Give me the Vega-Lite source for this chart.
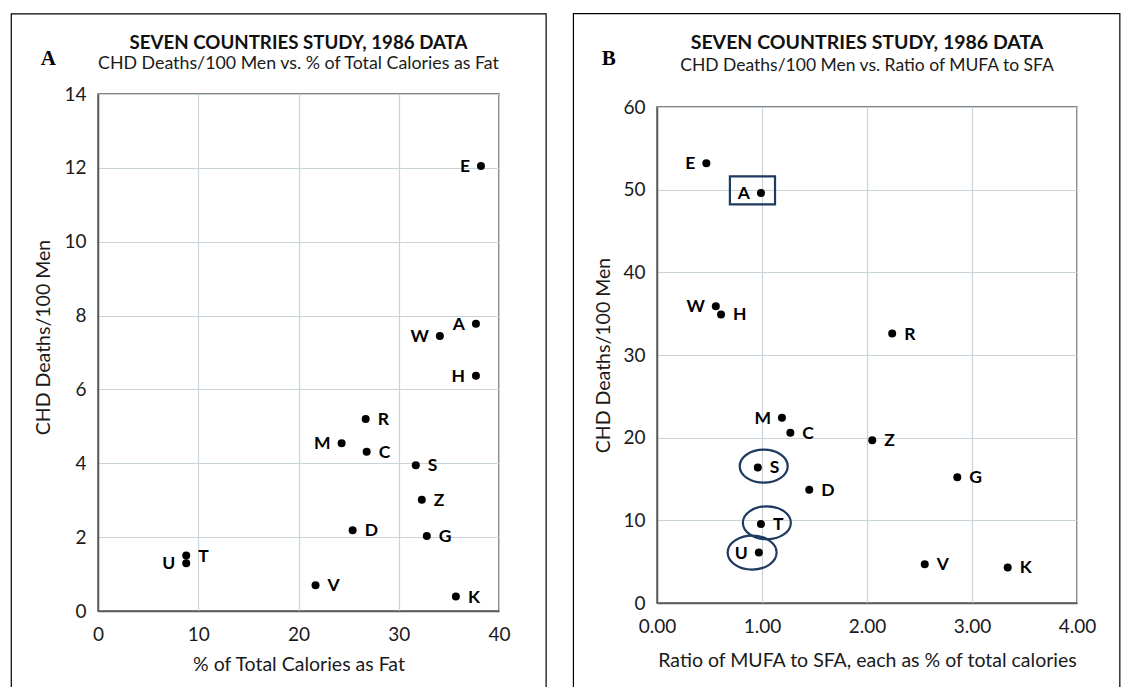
{
  "$schema": "https://vega.github.io/schema/vega-lite/v6.json",
  "padding": {"left": 9, "top": 11, "right": 0, "bottom": 0},
  "background": "white",
  "spacing": 24,
  "datasets": {
    "sc": [
      {"c": "E", "fat": 38.2, "dA": 12.05, "r": 0.47, "dB": 53.2},
      {"c": "A", "fat": 37.7, "dA": 7.78, "r": 0.99, "dB": 49.6},
      {"c": "W", "fat": 34.1, "dA": 7.45, "r": 0.56, "dB": 35.9},
      {"c": "H", "fat": 37.7, "dA": 6.37, "r": 0.61, "dB": 34.9},
      {"c": "R", "fat": 26.7, "dA": 5.2, "r": 2.24, "dB": 32.6},
      {"c": "M", "fat": 24.3, "dA": 4.54, "r": 1.19, "dB": 22.4},
      {"c": "C", "fat": 26.8, "dA": 4.31, "r": 1.27, "dB": 20.6},
      {"c": "S", "fat": 31.7, "dA": 3.95, "r": 0.96, "dB": 16.4},
      {"c": "Z", "fat": 32.3, "dA": 3.01, "r": 2.05, "dB": 19.7},
      {"c": "D", "fat": 25.4, "dA": 2.19, "r": 1.45, "dB": 13.7},
      {"c": "G", "fat": 32.8, "dA": 2.03, "r": 2.86, "dB": 15.2},
      {"c": "T", "fat": 8.8, "dA": 1.5, "r": 0.99, "dB": 9.55},
      {"c": "U", "fat": 8.8, "dA": 1.29, "r": 0.97, "dB": 6.1},
      {"c": "V", "fat": 21.7, "dA": 0.7, "r": 2.55, "dB": 4.7},
      {"c": "K", "fat": 35.7, "dA": 0.39, "r": 3.34, "dB": 4.3}
    ]
  },
  "config": {
    "view": {"stroke": "#5a5a5a", "strokeWidth": 1.5},
    "axis": {
      "domainColor": "#5a5a5a", "domainWidth": 1.5,
      "grid": true, "gridColor": "#c9d3da", "gridWidth": 1.2,
      "ticks": false,
      "labelFont": "Lato", "labelFontSize": 19, "labelColor": "#1a1a1a", "labelPadding": 12,
      "titleFont": "Lato", "titleFontSize": 19.5, "titleFontWeight": "normal", "titleColor": "#1a1a1a"
    },
    "title": {
      "font": "Lato", "fontWeight": "bold", "color": "#111111",
      "subtitleFont": "Lato", "subtitleColor": "#1a1a1a", "subtitlePadding": 3,
      "anchor": "middle", "frame": "group"
    }
  },
  "hconcat": [
    {
      "spacing": 0,
      "vconcat": [
        {"width": 1, "height": 1, "data": {"values": []}, "mark": "point", "view": {"stroke": null}},
        {
          "width": 401,
          "height": 517,
          "data": {"name": "sc"},
          "title": {"text": "SEVEN COUNTRIES STUDY, 1986 DATA", "subtitle": "CHD Deaths/100 Men vs. % of Total Calories as Fat", "offset": -60, "fontSize": 18.7, "subtitleFontSize": 17.8},
          "layer": [
            {
              "data": {"values": [{}]},
              "mark": {"type": "rect", "fill": "transparent", "stroke": "#000000", "strokeWidth": 1.2, "clip": false},
              "encoding": {
                "x": {"datum": -8.65, "type": "quantitative"},
                "x2": {"datum": 44.7},
                "y": {"datum": 16.17, "type": "quantitative"},
                "y2": {"datum": -2.45}
              }
            },
            {
              "data": {"values": [{}]},
              "mark": {"type": "text", "font": "Liberation Serif", "fontSize": 21, "fontWeight": "bold", "align": "left", "baseline": "alphabetic", "color": "black", "clip": false},
              "encoding": {
                "x": {"datum": -5.7, "type": "quantitative"},
                "y": {"datum": 14.78, "type": "quantitative"},
                "text": {"value": "A"}
              }
            },
            {
              "mark": {"type": "point", "filled": true, "color": "black", "size": 64, "opacity": 1},
              "encoding": {
                "x": {"field": "fat", "type": "quantitative", "scale": {"domain": [0, 40], "nice": false, "zero": false},
                      "axis": {"title": "% of Total Calories as Fat", "values": [0, 10, 20, 30, 40], "labelFlush": false, "grid": true, "labelPadding": 14, "titlePadding": 11}},
                "y": {"field": "dA", "type": "quantitative", "scale": {"domain": [0, 14], "nice": false},
                      "axis": {"title": "CHD Deaths/100 Men", "values": [0, 2, 4, 6, 8, 10, 12, 14], "titleY": 243, "titlePadding": 10, "grid": true}}
              }
            },
            {
              "transform": [{"filter": {"field": "c", "oneOf": ["R", "C", "S", "Z", "D", "G", "T", "V", "K"]}}],
              "mark": {"type": "text", "align": "left", "baseline": "middle", "dx": 12, "dy": 1, "font": "Lato", "fontSize": 17.5, "fontWeight": "bold", "color": "black"},
              "encoding": {
                "x": {"field": "fat", "type": "quantitative"},
                "y": {"field": "dA", "type": "quantitative"},
                "text": {"field": "c"}
              }
            },
            {
              "transform": [{"filter": {"field": "c", "oneOf": ["E", "A", "W", "H", "M", "U"]}}],
              "mark": {"type": "text", "align": "right", "baseline": "middle", "dx": -11, "dy": 1, "font": "Lato", "fontSize": 17.5, "fontWeight": "bold", "color": "black"},
              "encoding": {
                "x": {"field": "fat", "type": "quantitative"},
                "y": {"field": "dA", "type": "quantitative"},
                "text": {"field": "c"}
              }
            }
          ]
        }
      ]
    },
    {
      "spacing": 0,
      "vconcat": [
        {"width": 1, "height": 1, "data": {"values": []}, "mark": "point", "view": {"stroke": null}},
        {
          "width": 420,
          "height": 496,
          "data": {"name": "sc"},
          "title": {"text": "SEVEN COUNTRIES STUDY, 1986 DATA", "subtitle": "CHD Deaths/100 Men vs. Ratio of MUFA to SFA", "offset": -62, "fontSize": 19.5, "subtitleFontSize": 17.5},
          "layer": [
            {
              "data": {"values": [{}]},
              "mark": {"type": "rect", "fill": "transparent", "stroke": "#000000", "strokeWidth": 1.2, "clip": false},
              "encoding": {
                "x": {"datum": -0.796, "type": "quantitative"},
                "x2": {"datum": 4.408},
                "y": {"datum": 71.29, "type": "quantitative"},
                "y2": {"datum": -11.8}
              }
            },
            {
              "data": {"values": [{}]},
              "mark": {"type": "text", "font": "Liberation Serif", "fontSize": 21, "fontWeight": "bold", "align": "left", "baseline": "alphabetic", "color": "black", "clip": false},
              "encoding": {
                "x": {"datum": -0.527, "type": "quantitative"},
                "y": {"datum": 65.03, "type": "quantitative"},
                "text": {"value": "B"}
              }
            },
            {
              "mark": {"type": "point", "filled": true, "color": "black", "size": 64, "opacity": 1},
              "encoding": {
                "x": {"field": "r", "type": "quantitative", "scale": {"domain": [0, 4], "nice": false, "zero": false},
                      "axis": {"title": "Ratio of MUFA to SFA, each as % of total calories", "values": [0, 1, 2, 3, 4], "format": ".2f", "labelFlush": false, "grid": true, "labelPadding": 14, "titlePadding": 15}},
                "y": {"field": "dB", "type": "quantitative", "scale": {"domain": [0, 60], "nice": false},
                      "axis": {"title": "CHD Deaths/100 Men", "values": [0, 10, 20, 30, 40, 50, 60], "titlePadding": 9, "grid": true}}
              }
            },
            {
              "transform": [{"filter": {"field": "c", "oneOf": ["H", "R", "C", "Z", "S", "G", "D", "T", "V", "K"]}}],
              "mark": {"type": "text", "align": "left", "baseline": "middle", "dx": 12, "dy": 1, "font": "Lato", "fontSize": 17.5, "fontWeight": "bold", "color": "black"},
              "encoding": {
                "x": {"field": "r", "type": "quantitative"},
                "y": {"field": "dB", "type": "quantitative"},
                "text": {"field": "c"}
              }
            },
            {
              "transform": [{"filter": {"field": "c", "oneOf": ["E", "A", "W", "M", "U"]}}],
              "mark": {"type": "text", "align": "right", "baseline": "middle", "dx": -11, "dy": 1, "font": "Lato", "fontSize": 17.5, "fontWeight": "bold", "color": "black"},
              "encoding": {
                "x": {"field": "r", "type": "quantitative"},
                "y": {"field": "dB", "type": "quantitative"},
                "text": {"field": "c"}
              }
            },
            {
              "transform": [{"filter": {"field": "c", "oneOf": ["S", "T"]}}],
              "mark": {"type": "point", "filled": false, "stroke": "#1f3a5f", "strokeWidth": 2.2, "size": 1024, "opacity": 1,
                       "shape": "M -1.13 -0.08 C -1.13 -0.649 -0.458 -1.11 0.37 -1.11 C 1.198 -1.11 1.87 -0.649 1.87 -0.08 C 1.87 0.489 1.198 0.95 0.37 0.95 C -0.458 0.95 -1.13 0.489 -1.13 -0.08 Z"},
              "encoding": {
                "x": {"field": "r", "type": "quantitative"},
                "y": {"field": "dB", "type": "quantitative"}
              }
            },
            {
              "transform": [{"filter": {"field": "c", "equal": "U"}}],
              "mark": {"type": "point", "filled": false, "stroke": "#1f3a5f", "strokeWidth": 2.2, "size": 1024, "opacity": 1,
                       "shape": "M -1.95 0 C -1.95 -0.585 -1.265 -1.06 -0.42 -1.06 C 0.425 -1.06 1.11 -0.585 1.11 0 C 1.11 0.585 0.425 1.06 -0.42 1.06 C -1.265 1.06 -1.95 0.585 -1.95 0 Z"},
              "encoding": {
                "x": {"field": "r", "type": "quantitative"},
                "y": {"field": "dB", "type": "quantitative"}
              }
            },
            {
              "transform": [{"filter": {"field": "c", "equal": "A"}}],
              "mark": {"type": "point", "filled": false, "stroke": "#1f3a5f", "strokeWidth": 2.2, "size": 1024, "opacity": 1,
                       "shape": "M -1.94 -1.035 L 0.88 -1.035 L 0.88 0.715 L -1.94 0.715 Z"},
              "encoding": {
                "x": {"field": "r", "type": "quantitative"},
                "y": {"field": "dB", "type": "quantitative"}
              }
            }
          ]
        }
      ]
    }
  ]
}
